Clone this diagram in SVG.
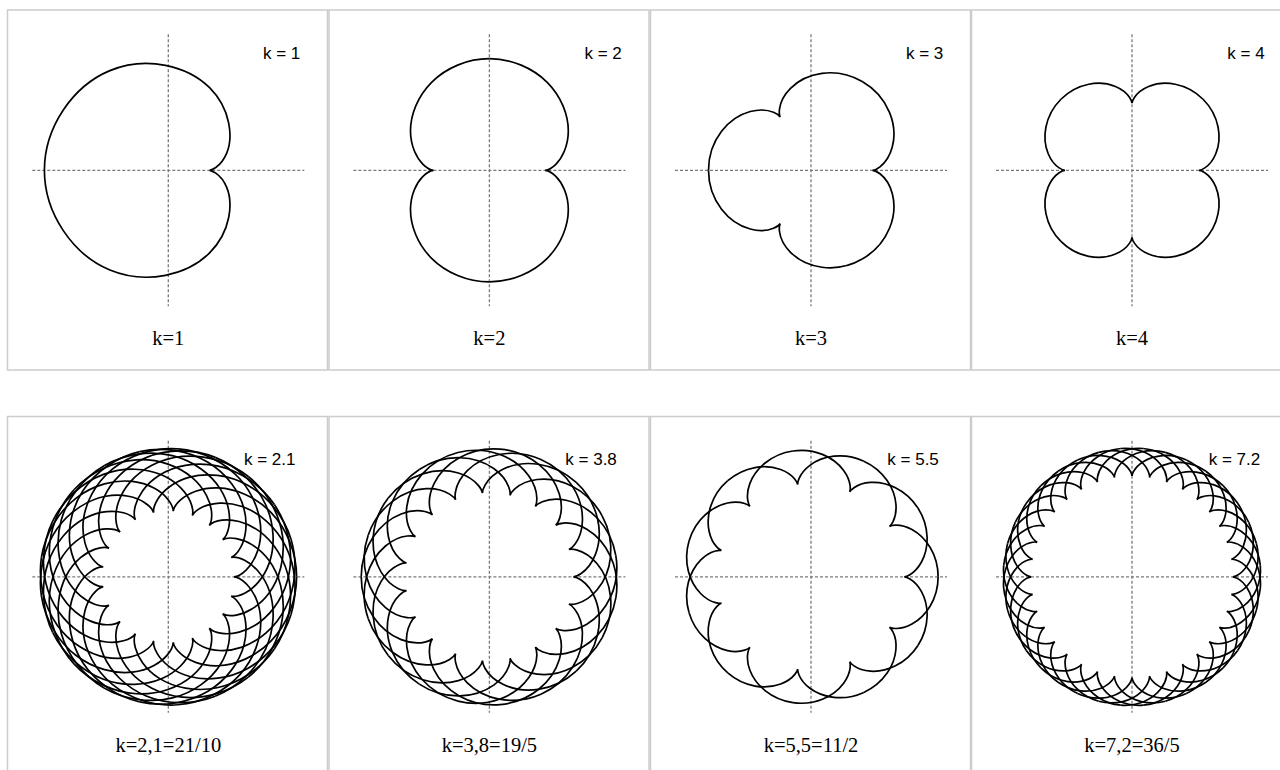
<svg xmlns="http://www.w3.org/2000/svg" width="1280" height="770" viewBox="0 0 1280 770">
<style>
.frame{fill:#fff;stroke:#cccccc;stroke-width:1.5}
.axis{fill:none;stroke:#7a7a7a;stroke-width:1.3;stroke-dasharray:3 2}
.curve{fill:none;stroke:#000;stroke-linejoin:round}
.tag{font-family:"Liberation Sans",Arial,sans-serif;font-size:17px;fill:#000}
.cap{font-family:"Liberation Serif","Times New Roman",serif;font-size:20.5px;fill:#000;text-anchor:middle}
</style>
<defs>
<path id="e1" d="M1 0C1 0 1.2609 0.0440 1.4142 0.4142C1.5676 0.7845 1.5236 1.4764 1 2C0.4764 2.5236 -0.5204 2.7845 -1.4142 2.4142C-2.3081 2.0440 -3 1.0472 -3 0M1 0C1 0 1.2609 -0.0440 1.4142 -0.4142C1.5676 -0.7845 1.5236 -1.4764 1 -2C0.4764 -2.5236 -0.5204 -2.7845 -1.4142 -2.4142C-2.3081 -2.0440 -3 -1.0472 -3 0"/>
<path id="e2" d="M2 0C2 0 2.1764 0.0116 2.3890 0.2242C2.6015 0.4367 2.8284 0.8589 2.8284 1.4142C2.8284 1.9696 2.5850 2.6412 2.0719 3.1543C1.5588 3.6674 0.7854 4 0 4M2 0C2 0 2.1764 -0.0116 2.3890 -0.2242C2.6015 -0.4367 2.8284 -0.8589 2.8284 -1.4142C2.8284 -1.9696 2.5850 -2.6412 2.0719 -3.1543C1.5588 -3.6674 0.7854 -4 0 -4"/>
<path id="e3" d="M3 0C3 0 3.1518 0.0066 3.3637 0.1693C3.5757 0.3319 3.8363 0.6571 3.9641 1.1340C4.0919 1.6108 4.0753 2.2325 3.8284 2.8284C3.5816 3.4243 3.1046 3.9811 2.5 4.3301M3 0C3 0 3.1518 -0.0066 3.3637 -0.1693C3.5757 -0.3319 3.8363 -0.6571 3.9641 -1.1340C4.0919 -1.6108 4.0753 -2.2325 3.8284 -2.8284C3.5816 -3.4243 3.1046 -3.9811 2.5 -4.3301"/>
<path id="e4" d="M4 0C4 0 4.1401 0.0048 4.3484 0.1440C4.5566 0.2831 4.8250 0.5620 5.0021 0.9895C5.1792 1.4171 5.2561 1.9897 5.1381 2.5828C5.0202 3.1758 4.7054 3.7798 4.2426 4.2426M4 0C4 0 4.1401 -0.0048 4.3484 -0.1440C4.5566 -0.2831 4.8250 -0.5620 5.0021 -0.9895C5.1792 -1.4171 5.2561 -1.9897 5.1381 -2.5828C5.0202 -3.1758 4.7054 -3.7798 4.2426 -4.2426"/>
<path id="e21" d="M2.1 0C2.1 0 2.2728 0.0108 2.4858 0.2160C2.6988 0.4212 2.9322 0.8293 2.9526 1.3755C2.9731 1.9216 2.7648 2.5908 2.2889 3.1233C1.8131 3.6557 1.0772 4.0308 0.3064 4.0885M2.1 0C2.1 0 2.2728 -0.0108 2.4858 -0.2160C2.6988 -0.4212 2.9322 -0.8293 2.9526 -1.3755C2.9731 -1.9216 2.7648 -2.5908 2.2889 -3.1233C1.8131 -3.6557 1.0772 -4.0308 0.3064 -4.0885"/>
<path id="e38" d="M3.8 0C3.8 0 3.9419 0.0051 4.1509 0.1479C4.3599 0.2907 4.6274 0.5767 4.7974 1.0124C4.9674 1.4480 5.0306 2.0293 4.8928 2.6246C4.7551 3.2199 4.4148 3.8193 3.9282 4.2672M3.8 0C3.8 0 3.9419 -0.0051 4.1509 -0.1479C4.3599 -0.2907 4.6274 -0.5767 4.7974 -1.0124C4.9674 -1.4480 5.0306 -2.0293 4.8928 -2.6246C4.7551 -3.2199 4.4148 -3.8193 3.9282 -4.2672"/>
<path id="e55" d="M5.5 0C5.5 0 5.6309 0.0037 5.8346 0.1245C6.0382 0.2453 6.3087 0.4877 6.5184 0.8718C6.7281 1.2558 6.8700 1.7794 6.8496 2.3507C6.8292 2.9221 6.6439 3.5342 6.3094 4.0548M5.5 0C5.5 0 5.6309 -0.0037 5.8346 -0.1245C6.0382 -0.2453 6.3087 -0.4877 6.5184 -0.8718C6.7281 -1.2558 6.8700 -1.7794 6.8496 -2.3507C6.8292 -2.9221 6.6439 -3.5342 6.3094 -4.0548"/>
<path id="e72" d="M7.2 0C7.2 0 7.3253 0.0031 7.5253 0.1128C7.7254 0.2226 7.9955 0.4429 8.2221 0.7985C8.4486 1.1541 8.6257 1.6438 8.6617 2.1935C8.6977 2.7433 8.5901 3.3476 8.3380 3.8881M7.2 0C7.2 0 7.3253 -0.0031 7.5253 -0.1128C7.7254 -0.2226 7.9955 -0.4429 8.2221 -0.7985C8.4486 -1.1541 8.6257 -1.6438 8.6617 -2.1935C8.6977 -2.7433 8.5901 -3.3476 8.3380 -3.8881"/>
</defs>
<rect x="0" y="0" width="1280" height="770" fill="#fff"/>

<g id="panel-k1">
<rect class="frame" x="7.5" y="10" width="320" height="360"/>
<path class="axis" d="M32.3 170.3H304.3M168.3 34.3V306.3"/>
<g class="curve" transform="translate(168.3 170.3) scale(41.3)" stroke-width="0.0412"><use href="#e1"/></g>
<text class="tag" x="263" y="59">k = 1</text>
<text class="cap" x="168.3" y="345">k=1</text>
</g>

<g id="panel-k2">
<rect class="frame" x="329" y="10" width="320" height="360"/>
<path class="axis" d="M353.4 170.3H625.4M489.4 34.3V306.3"/>
<g class="curve" transform="translate(489.4 170.3) scale(27.9)" stroke-width="0.0609"><use href="#e2"/><use href="#e2" transform="rotate(180)"/></g>
<text class="tag" x="584.5" y="59">k = 2</text>
<text class="cap" x="489.4" y="345">k=2</text>
</g>

<g id="panel-k3">
<rect class="frame" x="650.5" y="10" width="320" height="360"/>
<path class="axis" d="M675 170.3H947M811 34.3V306.3"/>
<g class="curve" transform="translate(811 170.3) scale(20.5)" stroke-width="0.0829"><use href="#e3"/><use href="#e3" transform="rotate(120)"/><use href="#e3" transform="rotate(240)"/></g>
<text class="tag" x="906" y="59">k = 3</text>
<text class="cap" x="811" y="345">k=3</text>
</g>

<g id="panel-k4">
<rect class="frame" x="971.5" y="10" width="320" height="360"/>
<path class="axis" d="M996 170.3H1268M1132 34.3V306.3"/>
<g class="curve" transform="translate(1132 170.3) scale(16.75)" stroke-width="0.1015"><use href="#e4"/><use href="#e4" transform="rotate(90)"/><use href="#e4" transform="rotate(180)"/><use href="#e4" transform="rotate(270)"/></g>
<text class="tag" x="1227.3" y="59">k = 4</text>
<text class="cap" x="1132" y="345">k=4</text>
</g>

<g id="panel-k21">
<rect class="frame" x="7.5" y="416.5" width="320" height="360"/>
<path class="axis" d="M32.3 576.8H304.3M168.3 440.8V712.8"/>
<g class="curve" transform="translate(168.3 576.8) scale(31.3)" stroke-width="0.0543">
<use href="#e21"/><use href="#e21" transform="rotate(17.142857)"/><use href="#e21" transform="rotate(34.285714)"/><use href="#e21" transform="rotate(51.428571)"/><use href="#e21" transform="rotate(68.571429)"/><use href="#e21" transform="rotate(85.714286)"/><use href="#e21" transform="rotate(102.857143)"/><use href="#e21" transform="rotate(120)"/><use href="#e21" transform="rotate(137.142857)"/><use href="#e21" transform="rotate(154.285714)"/><use href="#e21" transform="rotate(171.428571)"/><use href="#e21" transform="rotate(188.571429)"/><use href="#e21" transform="rotate(205.714286)"/><use href="#e21" transform="rotate(222.857143)"/><use href="#e21" transform="rotate(240)"/><use href="#e21" transform="rotate(257.142857)"/><use href="#e21" transform="rotate(274.285714)"/><use href="#e21" transform="rotate(291.428571)"/><use href="#e21" transform="rotate(308.571429)"/><use href="#e21" transform="rotate(325.714286)"/><use href="#e21" transform="rotate(342.857143)"/>
</g>
<text class="tag" x="244" y="465.3">k = 2.1</text>
<text class="cap" x="168.3" y="751.7">k=2,1=21/10</text>
</g>

<g id="panel-k38">
<rect class="frame" x="329" y="416.5" width="320" height="360"/>
<path class="axis" d="M353.4 576.8H625.4M489.4 440.8V712.8"/>
<g class="curve" transform="translate(489.4 576.8) scale(22.1)" stroke-width="0.0769">
<use href="#e38"/><use href="#e38" transform="rotate(18.947368)"/><use href="#e38" transform="rotate(37.894737)"/><use href="#e38" transform="rotate(56.842105)"/><use href="#e38" transform="rotate(75.789474)"/><use href="#e38" transform="rotate(94.736842)"/><use href="#e38" transform="rotate(113.684211)"/><use href="#e38" transform="rotate(132.631579)"/><use href="#e38" transform="rotate(151.578947)"/><use href="#e38" transform="rotate(170.526316)"/><use href="#e38" transform="rotate(189.473684)"/><use href="#e38" transform="rotate(208.421053)"/><use href="#e38" transform="rotate(227.368421)"/><use href="#e38" transform="rotate(246.315789)"/><use href="#e38" transform="rotate(265.263158)"/><use href="#e38" transform="rotate(284.210526)"/><use href="#e38" transform="rotate(303.157895)"/><use href="#e38" transform="rotate(322.105263)"/><use href="#e38" transform="rotate(341.052632)"/>
</g>
<text class="tag" x="565.3" y="465.3">k = 3.8</text>
<text class="cap" x="489.4" y="751.7">k=3,8=19/5</text>
</g>

<g id="panel-k55">
<rect class="frame" x="650.5" y="416.5" width="320" height="360"/>
<path class="axis" d="M675 576.8H947M811 440.8V712.8"/>
<g class="curve" transform="translate(811 576.8) scale(16.95)" stroke-width="0.1003">
<use href="#e55"/><use href="#e55" transform="rotate(32.727273)"/><use href="#e55" transform="rotate(65.454545)"/><use href="#e55" transform="rotate(98.181818)"/><use href="#e55" transform="rotate(130.909091)"/><use href="#e55" transform="rotate(163.636364)"/><use href="#e55" transform="rotate(196.363636)"/><use href="#e55" transform="rotate(229.090909)"/><use href="#e55" transform="rotate(261.818182)"/><use href="#e55" transform="rotate(294.545455)"/><use href="#e55" transform="rotate(327.272727)"/>
</g>
<text class="tag" x="887.3" y="465.3">k = 5.5</text>
<text class="cap" x="811" y="751.7">k=5,5=11/2</text>
</g>

<g id="panel-k72">
<rect class="frame" x="971.5" y="416.5" width="320" height="360"/>
<path class="axis" d="M996 576.8H1268M1132 440.8V712.8"/>
<g class="curve" transform="translate(1132 576.8) scale(14)" stroke-width="0.1214">
<use href="#e72"/><use href="#e72" transform="rotate(10)"/><use href="#e72" transform="rotate(20)"/><use href="#e72" transform="rotate(30)"/><use href="#e72" transform="rotate(40)"/><use href="#e72" transform="rotate(50)"/><use href="#e72" transform="rotate(60)"/><use href="#e72" transform="rotate(70)"/><use href="#e72" transform="rotate(80)"/><use href="#e72" transform="rotate(90)"/><use href="#e72" transform="rotate(100)"/><use href="#e72" transform="rotate(110)"/><use href="#e72" transform="rotate(120)"/><use href="#e72" transform="rotate(130)"/><use href="#e72" transform="rotate(140)"/><use href="#e72" transform="rotate(150)"/><use href="#e72" transform="rotate(160)"/><use href="#e72" transform="rotate(170)"/><use href="#e72" transform="rotate(180)"/><use href="#e72" transform="rotate(190)"/><use href="#e72" transform="rotate(200)"/><use href="#e72" transform="rotate(210)"/><use href="#e72" transform="rotate(220)"/><use href="#e72" transform="rotate(230)"/><use href="#e72" transform="rotate(240)"/><use href="#e72" transform="rotate(250)"/><use href="#e72" transform="rotate(260)"/><use href="#e72" transform="rotate(270)"/><use href="#e72" transform="rotate(280)"/><use href="#e72" transform="rotate(290)"/><use href="#e72" transform="rotate(300)"/><use href="#e72" transform="rotate(310)"/><use href="#e72" transform="rotate(320)"/><use href="#e72" transform="rotate(330)"/><use href="#e72" transform="rotate(340)"/><use href="#e72" transform="rotate(350)"/>
</g>
<text class="tag" x="1208.7" y="465.3">k = 7.2</text>
<text class="cap" x="1132" y="751.7">k=7,2=36/5</text>
</g>
</svg>
